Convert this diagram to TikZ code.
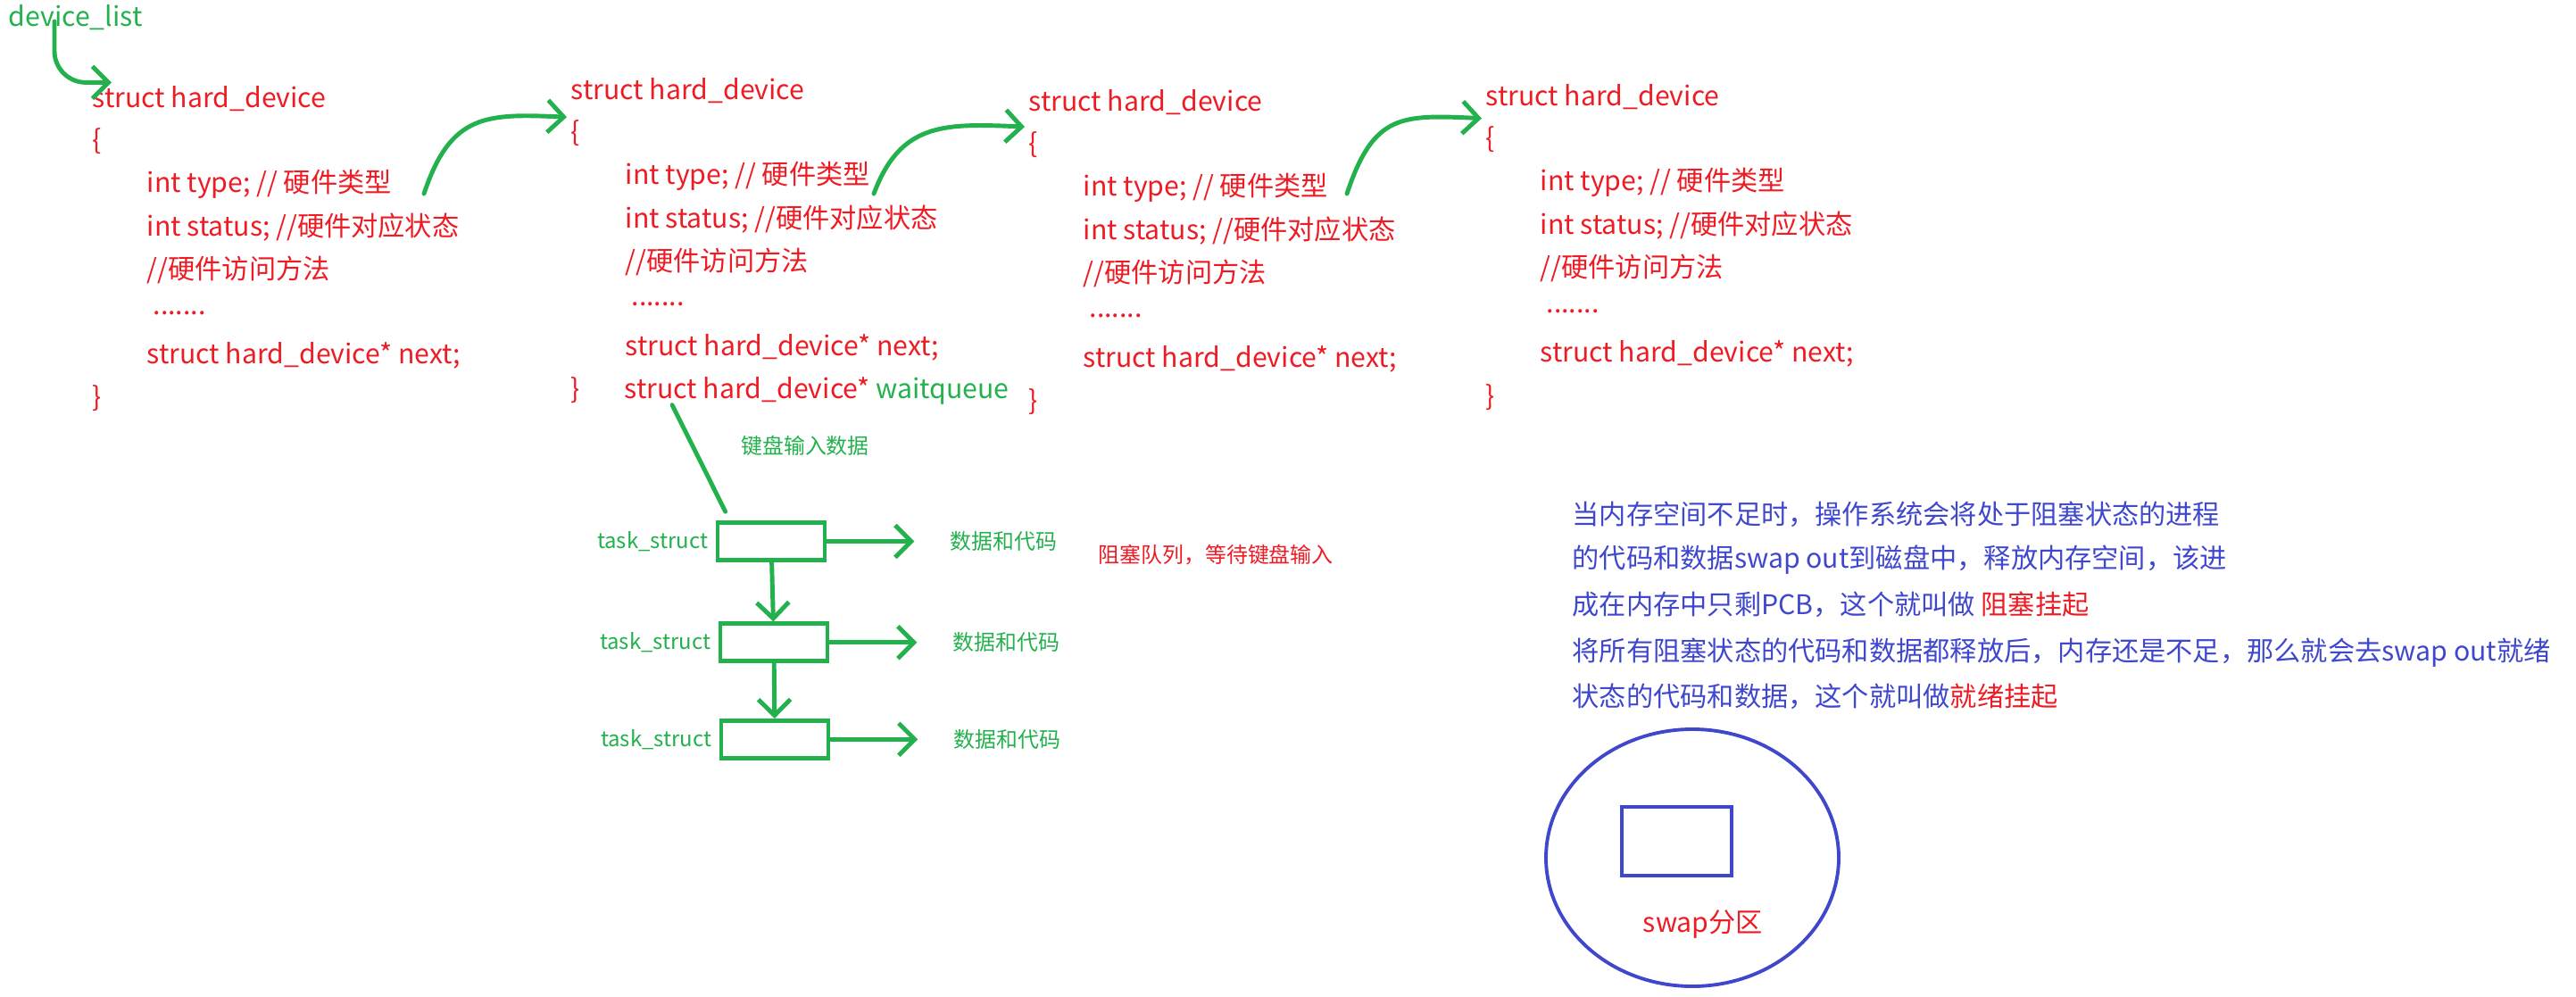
\documentclass[tikz,border=0pt]{standalone}
\usepackage{fontspec}
\newfontfamily\cjk{Noto Sans CJK SC}
\usepackage{tikz}
\usepackage{xcolor}
\usetikzlibrary{shapes,arrows.meta,positioning,calc}

\definecolor{pred}{RGB}{237,28,36}
\definecolor{pgreen}{RGB}{34,177,76}
\definecolor{pblue}{RGB}{63,72,204}

\begin{document}
\begin{tikzpicture}[
  code/.style={anchor=west, inner sep=0pt, text=pred, font=\cjk\fontsize{8.6}{10}\selectfont},
  note/.style={anchor=west, inner sep=0pt, font=\cjk\fontsize{6.8}{8}\selectfont},
  gline/.style={draw=pgreen, line width=1.4pt, line cap=round},
  garrow/.style={gline, -{Straight Barb[length=1.8mm,width=3.6mm,line width=1.4pt]}},
  taskbox/.style={rectangle, draw=pgreen, line width=1.3pt, minimum width=1.2cm, minimum height=0.42cm, inner sep=0pt},
]
\useasboundingbox (0,0) rectangle (28.86,11.16);

\node[code, text=pgreen] (dl) at (0.09,10.96) {device\_list};

% the hard_device list
\foreach \i/\x/\y in {1/1.03/10.056, 2/6.39/10.148, 3/11.52/10.019, 4/16.64/10.074} {
  \node[code] (h\i) at (\x,\y) {struct hard\_device};
  \node[code] (ob\i) at (\x,\y-0.48) {\{};
  \node[code] (ty\i) at (\x+0.61,\y-0.96) {int type; // 硬件类型};
  \node[code] (st\i) at (\x+0.61,\y-1.44) {int status; //硬件对应状态};
  \node[code] (me\i) at (\x+0.61,\y-1.92) {//硬件访问方法};
  \node[code] (dt\i) at (\x+0.68,\y-2.40) {.......};
  \node[code] (nx\i) at (\x+0.61,\y-2.88) {struct hard\_device* next;};
  \node[code] (cb\i) at (\x,\y-3.36) {\}};
}
\node[code] (wq) at (6.99,6.785) {struct hard\_device* \textcolor{pgreen}{waitqueue}};

\coordinate (dls) at (0.61,10.92);
\coordinate (a1) at (4.75,8.99);
\coordinate (a2) at (9.79,8.99);
\coordinate (a3) at (15.09,8.99);
\draw[garrow, rounded corners=10pt] (dls) |- ([xshift=0.22cm,yshift=0.18cm]h1.west);
\draw[garrow] (a1) .. controls +(0.3,0.9) and +(-0.9,0.04) .. ([xshift=-0.04cm,yshift=-0.30cm]h2.west);
\draw[garrow] (a2) .. controls +(0.3,0.8) and +(-0.9,0.04) .. ([xshift=-0.04cm,yshift=-0.28cm]h3.west);
\draw[garrow] (a3) .. controls +(0.3,0.9) and +(-0.9,0.04) .. ([xshift=-0.04cm,yshift=-0.24cm]h4.west);

% wait queue
\node[taskbox] (tb1) at (8.64,5.095) {};
\node[taskbox] (tb2) at (8.67,3.963) {};
\node[taskbox] (tb3) at (8.68,2.877) {};
\foreach \i in {1,2,3} {
  \node[note, text=pgreen, left=0.08cm of tb\i] (tl\i) {task\_struct};
  \coordinate (r\i) at ([xshift=0.98cm]tb\i.east);
  \draw[garrow] (tb\i.east) -- (r\i);
  \node[note, text=pgreen, right=0.4cm of r\i] (dc\i) {数据和代码};
}
\draw[garrow] (tb1) -- (tb2);
\draw[garrow] (tb2) -- (tb3);

\coordinate (wqs) at ([xshift=0.54cm]wq.south west);
\coordinate (wqe) at ([xshift=0.11cm,yshift=0.1cm]tb1.north west);
\draw[gline] (wqs) -- (wqe);
\node[note, text=pgreen, anchor=center] (kb) at (9.02,6.17) {键盘输入数据};
\node[note, text=pred] (bq) at (12.30,4.94) {阻塞队列，等待键盘输入};

% suspend notes
\node[code, text=pblue] (p1) at (17.61,5.399) {当内存空间不足时，操作系统会将处于阻塞状态的进程};
\node[code, text=pblue] (p2) at (17.61,4.884) {的代码和数据swap out到磁盘中，释放内存空间，该进};
\node[code, text=pblue] (p3) at (17.61,4.387) {成在内存中只剩PCB，这个就叫做 \textcolor{pred}{阻塞挂起}};
\node[code, text=pblue] (p4) at (17.61,3.853) {将所有阻塞状态的代码和数据都释放后，内存还是不足，那么就会去swap out就绪};
\node[code, text=pblue] (p5) at (17.61,3.356) {状态的代码和数据，这个就叫做\textcolor{pred}{就绪挂起}};

\node[ellipse, draw=pblue, line width=1.1pt, minimum width=3.28cm, minimum height=2.88cm] (disk) at (18.96,1.55) {};
\node[rectangle, draw=pblue, line width=1.1pt, minimum width=1.23cm, minimum height=0.77cm, inner sep=0pt] (sw) at (18.785,1.735) {};
\node[code, anchor=center] (swl) at (19.08,0.80) {swap分区};
\end{tikzpicture}
\end{document}
